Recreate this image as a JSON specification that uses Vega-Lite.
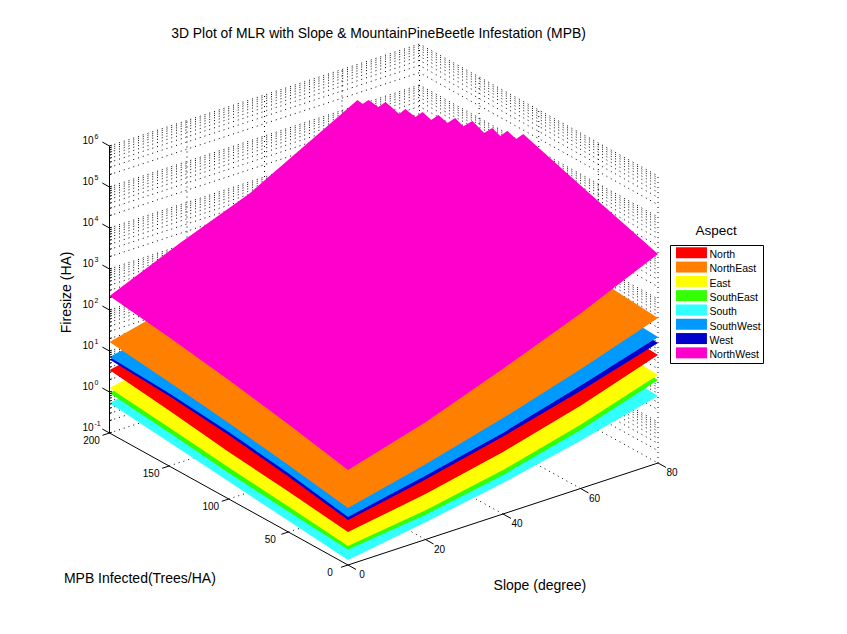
{
"$schema":"https://vega.github.io/schema/vega-lite/v6.json",
"width":847,"height":634,"padding":0,"autosize":{"type":"none"},"background":"white",
"config":{"view":{"stroke":null},"font":"Liberation Sans","text":{"font":"Liberation Sans"}},
"title":{"text":"3D Plot of MLR with Slope & MountainPineBeetle Infestation (MPB)","anchor":"middle","font":"Liberation Sans","fontSize":13.9,"fontWeight":"normal","color":"#000","dx":-45,"dy":41,"offset":0},
"datasets":{
"levels":[{"fire":0.1},{"fire":0.2},{"fire":0.3},{"fire":0.4},{"fire":0.5},{"fire":0.6},{"fire":0.7},{"fire":0.8},{"fire":0.9},{"fire":1},{"fire":2},{"fire":3},{"fire":4},{"fire":5},{"fire":6},{"fire":7},{"fire":8},{"fire":9},{"fire":10},{"fire":20},{"fire":30},{"fire":40},{"fire":50},{"fire":60},{"fire":70},{"fire":80},{"fire":90},{"fire":100},{"fire":200},{"fire":300},{"fire":400},{"fire":500},{"fire":600},{"fire":700},{"fire":800},{"fire":900},{"fire":1000},{"fire":2000},{"fire":3000},{"fire":4000},{"fire":5000},{"fire":6000},{"fire":7000},{"fire":8000},{"fire":9000},{"fire":10000},{"fire":20000},{"fire":30000},{"fire":40000},{"fire":50000},{"fire":60000},{"fire":70000},{"fire":80000},{"fire":90000},{"fire":100000},{"fire":200000},{"fire":300000},{"fire":400000},{"fire":500000},{"fire":600000},{"fire":700000},{"fire":800000},{"fire":900000},{"fire":1000000}],
"grid":[
{"g":"a","slope":20,"mpb":200,"fire":0.1},{"g":"a","slope":20,"mpb":200,"fire":1000000},
{"g":"b","slope":40,"mpb":200,"fire":0.1},{"g":"b","slope":40,"mpb":200,"fire":1000000},
{"g":"c","slope":60,"mpb":200,"fire":0.1},{"g":"c","slope":60,"mpb":200,"fire":1000000},
{"g":"d","slope":80,"mpb":200,"fire":0.1},{"g":"d","slope":80,"mpb":200,"fire":1000000},
{"g":"e","slope":80,"mpb":150,"fire":0.1},{"g":"e","slope":80,"mpb":150,"fire":1000000},
{"g":"f","slope":80,"mpb":100,"fire":0.1},{"g":"f","slope":80,"mpb":100,"fire":1000000},
{"g":"h","slope":80,"mpb":50,"fire":0.1},{"g":"h","slope":80,"mpb":50,"fire":1000000},
{"g":"i","slope":80,"mpb":0,"fire":0.1},{"g":"i","slope":80,"mpb":0,"fire":1000000},
{"g":"j","slope":0,"mpb":50,"fire":0.1},{"g":"j","slope":80,"mpb":50,"fire":0.1},
{"g":"k","slope":0,"mpb":100,"fire":0.1},{"g":"k","slope":80,"mpb":100,"fire":0.1},
{"g":"l","slope":0,"mpb":150,"fire":0.1},{"g":"l","slope":80,"mpb":150,"fire":0.1},
{"g":"m","slope":20,"mpb":0,"fire":0.1},{"g":"m","slope":20,"mpb":200,"fire":0.1},
{"g":"n","slope":40,"mpb":0,"fire":0.1},{"g":"n","slope":40,"mpb":200,"fire":0.1},
{"g":"o","slope":60,"mpb":0,"fire":0.1},{"g":"o","slope":60,"mpb":200,"fire":0.1}],
"surfaces":[
{"aspect":"South","slope":0,"mpb":0,"fire":0.132},{"aspect":"South","slope":20,"mpb":0,"fire":0.264},{"aspect":"South","slope":40,"mpb":0,"fire":0.57},{"aspect":"South","slope":60,"mpb":0,"fire":1.46},{"aspect":"South","slope":80,"mpb":0,"fire":4.3},{"aspect":"South","slope":80,"mpb":200,"fire":12.5},{"aspect":"South","slope":0,"mpb":200,"fire":0.54},{"aspect":"South","slope":0,"mpb":150,"fire":0.379},{"aspect":"South","slope":0,"mpb":100,"fire":0.267},{"aspect":"South","slope":0,"mpb":50,"fire":0.188},
{"aspect":"SouthEast","slope":0,"mpb":0,"fire":0.239},{"aspect":"SouthEast","slope":20,"mpb":0,"fire":0.404},{"aspect":"SouthEast","slope":40,"mpb":0,"fire":0.893},{"aspect":"SouthEast","slope":60,"mpb":0,"fire":2.69},{"aspect":"SouthEast","slope":80,"mpb":0,"fire":10.6},{"aspect":"SouthEast","slope":80,"mpb":200,"fire":29},{"aspect":"SouthEast","slope":0,"mpb":200,"fire":0.946},{"aspect":"SouthEast","slope":0,"mpb":150,"fire":0.656},{"aspect":"SouthEast","slope":0,"mpb":100,"fire":0.43},{"aspect":"SouthEast","slope":0,"mpb":50,"fire":0.316},
{"aspect":"East","slope":0,"mpb":0,"fire":0.29},{"aspect":"East","slope":20,"mpb":0,"fire":0.514},{"aspect":"East","slope":40,"mpb":0,"fire":1.18},{"aspect":"East","slope":60,"mpb":0,"fire":3.57},{"aspect":"East","slope":80,"mpb":0,"fire":14},{"aspect":"East","slope":80,"mpb":200,"fire":38.5},{"aspect":"East","slope":0,"mpb":200,"fire":1.25},{"aspect":"East","slope":0,"mpb":150,"fire":0.869},{"aspect":"East","slope":0,"mpb":100,"fire":0.586},{"aspect":"East","slope":0,"mpb":50,"fire":0.419},
{"aspect":"North","slope":0,"mpb":0,"fire":0.638},{"aspect":"North","slope":20,"mpb":0,"fire":1.28},{"aspect":"North","slope":40,"mpb":0,"fire":3.25},{"aspect":"North","slope":60,"mpb":0,"fire":10.5},{"aspect":"North","slope":80,"mpb":0,"fire":43},{"aspect":"North","slope":80,"mpb":200,"fire":118},{"aspect":"North","slope":0,"mpb":200,"fire":3.44},{"aspect":"North","slope":0,"mpb":150,"fire":2.26},{"aspect":"North","slope":0,"mpb":100,"fire":1.4},{"aspect":"North","slope":0,"mpb":50,"fire":0.972},
{"aspect":"West","slope":0,"mpb":0,"fire":1.25},{"aspect":"West","slope":20,"mpb":0,"fire":2.9},{"aspect":"West","slope":40,"mpb":0,"fire":7.76},{"aspect":"West","slope":60,"mpb":0,"fire":23.9},{"aspect":"West","slope":80,"mpb":0,"fire":84.5},{"aspect":"West","slope":80,"mpb":200,"fire":207},{"aspect":"West","slope":0,"mpb":200,"fire":6.2},{"aspect":"West","slope":0,"mpb":150,"fire":5.07},{"aspect":"West","slope":0,"mpb":100,"fire":3.64},{"aspect":"West","slope":0,"mpb":50,"fire":2.27},
{"aspect":"SouthWest","slope":0,"mpb":0,"fire":1.48},{"aspect":"SouthWest","slope":20,"mpb":0,"fire":3.59},{"aspect":"SouthWest","slope":40,"mpb":0,"fire":9.5},{"aspect":"SouthWest","slope":60,"mpb":0,"fire":32.1},{"aspect":"SouthWest","slope":80,"mpb":0,"fire":118},{"aspect":"SouthWest","slope":80,"mpb":200,"fire":275},{"aspect":"SouthWest","slope":0,"mpb":200,"fire":7.14},{"aspect":"SouthWest","slope":0,"mpb":150,"fire":5.94},{"aspect":"SouthWest","slope":0,"mpb":100,"fire":4.3},{"aspect":"SouthWest","slope":0,"mpb":50,"fire":2.71},
{"aspect":"NorthEast","slope":0,"mpb":0,"fire":2.45},{"aspect":"NorthEast","slope":20,"mpb":0,"fire":6.84},{"aspect":"NorthEast","slope":40,"mpb":0,"fire":21.9},{"aspect":"NorthEast","slope":60,"mpb":0,"fire":81},{"aspect":"NorthEast","slope":80,"mpb":0,"fire":344},{"aspect":"NorthEast","slope":80,"mpb":200,"fire":1122},{"aspect":"NorthEast","slope":0,"mpb":200,"fire":16.6},{"aspect":"NorthEast","slope":0,"mpb":150,"fire":11.2},{"aspect":"NorthEast","slope":0,"mpb":100,"fire":7.14},{"aspect":"NorthEast","slope":0,"mpb":50,"fire":4.3},
{"aspect":"NorthWest","slope":0,"mpb":0,"fire":20.7},{"aspect":"NorthWest","slope":20,"mpb":0,"fire":72},{"aspect":"NorthWest","slope":40,"mpb":0,"fire":350},{"aspect":"NorthWest","slope":60,"mpb":0,"fire":1845},{"aspect":"NorthWest","slope":80,"mpb":0,"fire":12500},
{"aspect":"NorthWest","slope":80,"mpb":15.1,"fire":17500},{"aspect":"NorthWest","slope":80,"mpb":51.2,"fire":38900},{"aspect":"NorthWest","slope":80,"mpb":82.2,"fire":78500},
{"aspect":"NorthWest","slope":80,"mpb":113,"fire":160000},{"aspect":"NorthWest","slope":79.3,"mpb":116.7,"fire":110700},{"aspect":"NorthWest","slope":78.5,"mpb":121.4,"fire":156000},{"aspect":"NorthWest","slope":77.8,"mpb":125.1,"fire":107700},{"aspect":"NorthWest","slope":77,"mpb":129.3,"fire":152000},{"aspect":"NorthWest","slope":76.2,"mpb":133.4,"fire":104000},{"aspect":"NorthWest","slope":75.1,"mpb":139.7,"fire":175000},{"aspect":"NorthWest","slope":74.2,"mpb":144.4,"fire":118000},{"aspect":"NorthWest","slope":73.4,"mpb":148.7,"fire":167500},{"aspect":"NorthWest","slope":72.7,"mpb":152.8,"fire":115000},{"aspect":"NorthWest","slope":71.8,"mpb":157.5,"fire":161000},{"aspect":"NorthWest","slope":71.1,"mpb":161.2,"fire":111000},{"aspect":"NorthWest","slope":70.3,"mpb":165.9,"fire":156000},{"aspect":"NorthWest","slope":69.6,"mpb":169.6,"fire":107800},{"aspect":"NorthWest","slope":68.6,"mpb":174.9,"fire":149000},{"aspect":"NorthWest","slope":68,"mpb":178,"fire":104700},{"aspect":"NorthWest","slope":66.7,"mpb":185.3,"fire":172600},{"aspect":"NorthWest","slope":66,"mpb":189,"fire":119000},{"aspect":"NorthWest","slope":65.1,"mpb":194.3,"fire":155000},{"aspect":"NorthWest","slope":64.5,"mpb":197.4,"fire":115000},{"aspect":"NorthWest","slope":64,"mpb":200,"fire":135000},
{"aspect":"NorthWest","slope":51.7,"mpb":200,"fire":32400},{"aspect":"NorthWest","slope":36.3,"mpb":200,"fire":5333},{"aspect":"NorthWest","slope":18.2,"mpb":200,"fire":1175},{"aspect":"NorthWest","slope":0,"mpb":200,"fire":219},{"aspect":"NorthWest","slope":0,"mpb":150,"fire":138},{"aspect":"NorthWest","slope":0,"mpb":100,"fire":79.8},{"aspect":"NorthWest","slope":0,"mpb":50,"fire":42.5}],
"axes":[
{"g":"zaxis","slope":0,"mpb":200,"fire":0.1},{"g":"zaxis","slope":0,"mpb":200,"fire":1000000},
{"g":"maxis","slope":0,"mpb":0,"fire":0.1},{"g":"maxis","slope":0,"mpb":200,"fire":0.1},
{"g":"saxis","slope":0,"mpb":0,"fire":0.1},{"g":"saxis","slope":80,"mpb":0,"fire":0.1},
{"g":"m0","slope":0,"mpb":0,"fire":0.1},{"g":"m0","slope":-1.8,"mpb":0,"fire":0.1},
{"g":"m50","slope":0,"mpb":50,"fire":0.1},{"g":"m50","slope":-1.8,"mpb":50,"fire":0.1},
{"g":"m100","slope":0,"mpb":100,"fire":0.1},{"g":"m100","slope":-1.8,"mpb":100,"fire":0.1},
{"g":"m150","slope":0,"mpb":150,"fire":0.1},{"g":"m150","slope":-1.8,"mpb":150,"fire":0.1},
{"g":"m200","slope":0,"mpb":200,"fire":0.1},{"g":"m200","slope":-1.8,"mpb":200,"fire":0.1},
{"g":"s0","slope":0,"mpb":0,"fire":0.1},{"g":"s0","slope":0,"mpb":-6.7,"fire":0.1},
{"g":"s20","slope":20,"mpb":0,"fire":0.1},{"g":"s20","slope":20,"mpb":-6.7,"fire":0.1},
{"g":"s40","slope":40,"mpb":0,"fire":0.1},{"g":"s40","slope":40,"mpb":-6.7,"fire":0.1},
{"g":"s60","slope":60,"mpb":0,"fire":0.1},{"g":"s60","slope":60,"mpb":-6.7,"fire":0.1},
{"g":"s80","slope":80,"mpb":0,"fire":0.1},{"g":"s80","slope":80,"mpb":-6.7,"fire":0.1},
{"g":"z-1","slope":0,"mpb":200,"fire":0.1},{"g":"z-1","slope":0,"mpb":206,"fire":0.1},
{"g":"z0","slope":0,"mpb":200,"fire":1},{"g":"z0","slope":0,"mpb":206,"fire":1},
{"g":"z1","slope":0,"mpb":200,"fire":10},{"g":"z1","slope":0,"mpb":206,"fire":10},
{"g":"z2","slope":0,"mpb":200,"fire":100},{"g":"z2","slope":0,"mpb":206,"fire":100},
{"g":"z3","slope":0,"mpb":200,"fire":1000},{"g":"z3","slope":0,"mpb":206,"fire":1000},
{"g":"z4","slope":0,"mpb":200,"fire":10000},{"g":"z4","slope":0,"mpb":206,"fire":10000},
{"g":"z5","slope":0,"mpb":200,"fire":100000},{"g":"z5","slope":0,"mpb":206,"fire":100000},
{"g":"z6","slope":0,"mpb":200,"fire":1000000},{"g":"z6","slope":0,"mpb":206,"fire":1000000}],
"mlabels":[{"t":"0","slope":0,"mpb":0,"fire":0.1},{"t":"50","slope":0,"mpb":50,"fire":0.1},{"t":"100","slope":0,"mpb":100,"fire":0.1},{"t":"150","slope":0,"mpb":150,"fire":0.1},{"t":"200","slope":0,"mpb":200,"fire":0.1}],
"slabels":[{"t":"0","slope":0,"mpb":0,"fire":0.1},{"t":"20","slope":20,"mpb":0,"fire":0.1},{"t":"40","slope":40,"mpb":0,"fire":0.1},{"t":"60","slope":60,"mpb":0,"fire":0.1},{"t":"80","slope":80,"mpb":0,"fire":0.1}],
"zlabels":[{"t":"10","e":"-1","slope":0,"mpb":200,"fire":0.1},{"t":"10","e":"0","slope":0,"mpb":200,"fire":1},{"t":"10","e":"1","slope":0,"mpb":200,"fire":10},{"t":"10","e":"2","slope":0,"mpb":200,"fire":100},{"t":"10","e":"3","slope":0,"mpb":200,"fire":1000},{"t":"10","e":"4","slope":0,"mpb":200,"fire":10000},{"t":"10","e":"5","slope":0,"mpb":200,"fire":100000},{"t":"10","e":"6","slope":0,"mpb":200,"fire":1000000}],
"titles":[{"t":"Slope (degree)","slope":24.9,"mpb":-80,"fire":0.1},{"t":"MPB Infected(Trees/HA)","slope":-37.8,"mpb":51.7,"fire":0.1}],
"atitle":[{"t":"Aspect","slope":95,"mpb":0,"fire":15849}],
"ztitle":[{"t":"Firesize (HA)","slope":0,"mpb":235.6,"fire":72}]
},
"encoding":{
"x":{"field":"sx","type":"quantitative","scale":{"domain":[0,847],"range":[0,847],"nice":false,"zero":false},"axis":null},
"y":{"field":"sy","type":"quantitative","scale":{"domain":[634,0],"range":[634,0],"nice":false,"zero":false},"axis":null}
},
"layer":[
{"data":{"name":"levels"},"transform":[{"calculate":"[0,80,80]","as":"slope"},{"calculate":"[200,200,0]","as":"mpb"},{"flatten":["slope","mpb"]},{"calculate":"348+3.875*datum.slope-1.1925*datum.mpb","as":"sx"},{"calculate":"565-1.275*datum.slope-0.66*datum.mpb-41*(log(datum.fire)/LN10+1)","as":"sy"}],
"mark":{"type":"line","stroke":"black","strokeWidth":1,"strokeDash":[1,4]},"encoding":{"detail":{"field":"fire"},"order":{"value":null}}},
{"data":{"name":"grid"},"transform":[{"calculate":"348+3.875*datum.slope-1.1925*datum.mpb","as":"sx"},{"calculate":"565-1.275*datum.slope-0.66*datum.mpb-41*(log(datum.fire)/LN10+1)","as":"sy"}],
"mark":{"type":"line","stroke":"black","strokeWidth":1,"strokeDash":[1,4]},"encoding":{"detail":{"field":"g"},"order":{"value":null}}},
{"data":{"name":"surfaces"},"transform":[{"calculate":"348+3.875*datum.slope-1.1925*datum.mpb","as":"sx"},{"calculate":"565-1.275*datum.slope-0.66*datum.mpb-41*(log(datum.fire)/LN10+1)","as":"sy"}],
"mark":{"type":"line","strokeWidth":0},
"encoding":{"order":{"value":null},"fill":{"field":"aspect","type":"nominal","scale":{"domain":["North","NorthEast","East","SouthEast","South","SouthWest","West","NorthWest"],"range":["#ff0000","#ff8000","#ffff00","#33ff00","#33ffff","#0099ff","#0000cc","#ff00cc"]},
"legend":{"orient":"none","legendX":670,"legendY":245,"title":null,"strokeColor":"black","fillColor":"white","padding":2,"symbolType":"M-0.52,-1H3.48V0.42H-0.52Z","symbolSize":240,"symbolStrokeWidth":0,"labelFont":"Liberation Sans","labelFontSize":10.5,"labelColor":"black","labelOffset":21.5,"rowPadding":0.3}}}},
{"data":{"name":"axes"},"transform":[{"calculate":"348+3.875*datum.slope-1.1925*datum.mpb","as":"sx"},{"calculate":"565-1.275*datum.slope-0.66*datum.mpb-41*(log(datum.fire)/LN10+1)","as":"sy"}],
"mark":{"type":"line","stroke":"black","strokeWidth":1},"encoding":{"detail":{"field":"g"},"order":{"value":null}}},
{"data":{"name":"levels"},"transform":[{"calculate":"[0,0.6]","as":"slope"},{"calculate":"[200,200]","as":"mpb"},{"flatten":["slope","mpb"]},{"calculate":"348+3.875*datum.slope-1.1925*datum.mpb","as":"sx"},{"calculate":"565-1.275*datum.slope-0.66*datum.mpb-41*(log(datum.fire)/LN10+1)","as":"sy"}],
"mark":{"type":"line","stroke":"black","strokeWidth":1},"encoding":{"detail":{"field":"fire"},"order":{"value":null}}},
{"data":{"name":"mlabels"},"transform":[{"calculate":"348+3.875*datum.slope-1.1925*datum.mpb","as":"sx"},{"calculate":"565-1.275*datum.slope-0.66*datum.mpb-41*(log(datum.fire)/LN10+1)","as":"sy"}],
"mark":{"type":"text","fontSize":10,"color":"black","align":"center","baseline":"middle","dx":-18,"dy":7.5},"encoding":{"text":{"field":"t"}}},
{"data":{"name":"slabels"},"transform":[{"calculate":"348+3.875*datum.slope-1.1925*datum.mpb","as":"sx"},{"calculate":"565-1.275*datum.slope-0.66*datum.mpb-41*(log(datum.fire)/LN10+1)","as":"sy"}],
"mark":{"type":"text","fontSize":10,"color":"black","align":"center","baseline":"middle","dx":14,"dy":10},"encoding":{"text":{"field":"t"}}},
{"data":{"name":"zlabels"},"transform":[{"calculate":"348+3.875*datum.slope-1.1925*datum.mpb","as":"sx"},{"calculate":"565-1.275*datum.slope-0.66*datum.mpb-41*(log(datum.fire)/LN10+1)","as":"sy"}],
"mark":{"type":"text","fontSize":10,"color":"black","align":"right","baseline":"middle","dx":-16,"dy":-5},"encoding":{"text":{"field":"t"}}},
{"data":{"name":"zlabels"},"transform":[{"calculate":"348+3.875*datum.slope-1.1925*datum.mpb","as":"sx"},{"calculate":"565-1.275*datum.slope-0.66*datum.mpb-41*(log(datum.fire)/LN10+1)","as":"sy"}],
"mark":{"type":"text","fontSize":7,"color":"black","align":"left","baseline":"middle","dx":-15,"dy":-9},"encoding":{"text":{"field":"e"}}},
{"data":{"name":"titles"},"transform":[{"calculate":"348+3.875*datum.slope-1.1925*datum.mpb","as":"sx"},{"calculate":"565-1.275*datum.slope-0.66*datum.mpb-41*(log(datum.fire)/LN10+1)","as":"sy"}],
"mark":{"type":"text","fontSize":14,"color":"black","align":"center","baseline":"middle"},"encoding":{"text":{"field":"t"}}},
{"data":{"name":"atitle"},"transform":[{"calculate":"348+3.875*datum.slope-1.1925*datum.mpb","as":"sx"},{"calculate":"565-1.275*datum.slope-0.66*datum.mpb-41*(log(datum.fire)/LN10+1)","as":"sy"}],
"mark":{"type":"text","fontSize":13.5,"color":"black","align":"center","baseline":"middle"},"encoding":{"text":{"field":"t"}}},
{"data":{"name":"ztitle"},"transform":[{"calculate":"348+3.875*datum.slope-1.1925*datum.mpb","as":"sx"},{"calculate":"565-1.275*datum.slope-0.66*datum.mpb-41*(log(datum.fire)/LN10+1)","as":"sy"}],
"mark":{"type":"text","fontSize":14,"color":"black","align":"center","baseline":"middle","angle":270},"encoding":{"text":{"field":"t"}}}
]
}
